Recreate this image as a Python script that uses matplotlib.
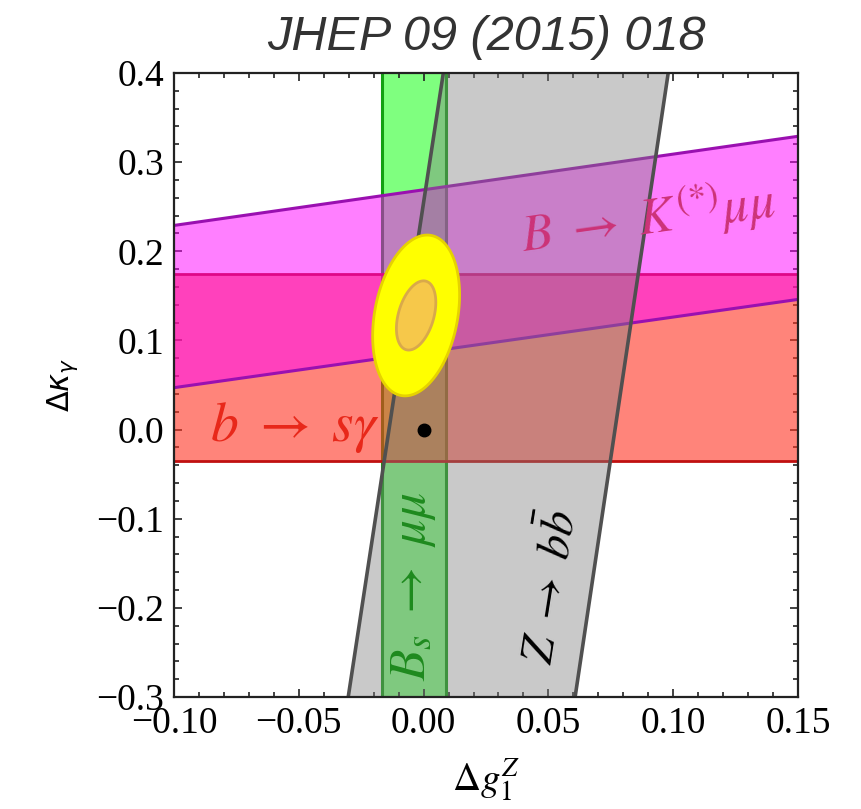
import numpy as np
import matplotlib
matplotlib.use("Agg")
import matplotlib.pyplot as plt

plt.rcParams['mathtext.fontset'] = 'stix'

# ---------------- data ----------------
x_limits = [-0.10, 0.15]
y_limits = [-0.30, 0.40]
x_ticks = [-0.10, -0.05, 0.00, 0.05, 0.10, 0.15]
x_tick_labels = ["\u22120.10", "\u22120.05", "0.00", "0.05", "0.10", "0.15"]
y_ticks = [-0.3, -0.2, -0.1, 0.0, 0.1, 0.2, 0.3, 0.4]
y_tick_labels = ["\u22120.3", "\u22120.2", "\u22120.1", "0.0", "0.1", "0.2", "0.3", "0.4"]

# B_s -> mu mu : vertical band in Delta g1Z
bsmm_x_range = [-0.0165, 0.009]
# b -> s gamma : horizontal band in Delta kappa
bsg_y_range = [-0.035, 0.175]
# B -> K(*) mu mu : tilted band (edges at x = -0.10 and 0.15)
bkmm_x = [-0.10, 0.15]
bkmm_low = [0.047, 0.146]
bkmm_high = [0.229, 0.329]
# Z -> b bbar : tilted band (edges at y = -0.3 and 0.4)
zbb_y = [-0.30, 0.40]
zbb_left = [-0.0302, 0.0079]
zbb_right = [0.0607, 0.098]

# combined fit ellipses: centre, semi-axis vectors (data units)
fit_center = [-0.003, 0.128]
outer_major = [0.0060, 0.0898]
outer_minor = [0.01635, -0.0085]
inner_major = [0.0040, 0.0384]
inner_minor = [0.0068, -0.0056]
sm_point = [0.0, 0.0]

# ---------------- figure ----------------
fig = plt.figure(figsize=(8.61, 8.09), dpi=100)
ax = fig.add_axes([174/861, 1-697/809, 624/861, 624/809])

# green band
ax.axvspan(bsmm_x_range[0], bsmm_x_range[1], color='#00FF00', alpha=0.5, lw=0, zorder=1)
for xv in bsmm_x_range:
    ax.axvline(xv, color='#12A012', lw=2.2, zorder=1.1)

# red band
ax.axhspan(bsg_y_range[0], bsg_y_range[1], color='#FF3322', alpha=0.6, lw=0, zorder=2)
for yv in bsg_y_range:
    ax.axhline(yv, color='#C01010', lw=2.0, zorder=2.1)

# magenta band
ax.fill_between(bkmm_x, bkmm_low, bkmm_high, color='#FF00FF', alpha=0.5, lw=0, zorder=3)
ax.plot(bkmm_x, bkmm_low, color='#9A10B0', lw=2.2, zorder=3.1)
ax.plot(bkmm_x, bkmm_high, color='#9A10B0', lw=2.2, zorder=3.1)

# gray band
ax.fill_betweenx(zbb_y, zbb_left, zbb_right, color='#7F7F7F', alpha=0.42, lw=0, zorder=4)
ax.plot(zbb_left, zbb_y, color='#505050', lw=2.6, zorder=4.1)
ax.plot(zbb_right, zbb_y, color='#505050', lw=2.6, zorder=4.1)

# ellipses
t = np.linspace(0, 2*np.pi, 200)
def ell(major, minor):
    ex = fit_center[0] + major[0]*np.cos(t) + minor[0]*np.sin(t)
    ey = fit_center[1] + major[1]*np.cos(t) + minor[1]*np.sin(t)
    return ex, ey
ex, ey = ell(outer_major, outer_minor)
ax.fill(ex, ey, facecolor='#FFFF00', edgecolor='#E6D200', lw=2, zorder=5)
ex, ey = ell(inner_major, inner_minor)
ax.fill(ex, ey, facecolor='#F6C84A', edgecolor='#D9A94A', lw=2, zorder=5.1)

ax.plot([sm_point[0]], [sm_point[1]], 'o', color='black', ms=9, zorder=6)

# labels
ax.text(0.090, 0.237, r'$B\ \rightarrow\ K^{(*)}\mu\mu$', color='#CC3377', fontsize=37,
        rotation=8, ha='center', va='center', rotation_mode='anchor', zorder=7)
ax.text(-0.0515, 0.002, r'$b\ \rightarrow\ s\gamma$', color='#E8281A', fontsize=40,
        ha='center', va='center', zorder=7)
ax.text(-0.0042, -0.176, r'$B_s\ \rightarrow\ \mu\mu$', color='#1E8A1E', fontsize=37,
        rotation=90, ha='center', va='center', rotation_mode='anchor', zorder=7)
ax.text(0.051, -0.177, r'$Z\ \rightarrow\ b\bar{b}$', color='black', fontsize=34,
        rotation=81, ha='center', va='center', rotation_mode='anchor', zorder=7)

# axes styling
ax.set_xlim(x_limits)
ax.set_ylim(y_limits)
ax.set_xticks(x_ticks)
ax.set_xticklabels(x_tick_labels)
ax.set_yticks(y_ticks)
ax.set_yticklabels(y_tick_labels)
ax.set_xticks(np.arange(-0.10, 0.1501, 0.01), minor=True)
ax.set_yticks(np.arange(-0.30, 0.4001, 0.02), minor=True)
ax.tick_params(which='both', direction='in', top=True, right=True, width=1.2, color='#222222')
ax.tick_params(which='major', length=6, pad=7, labelsize=27)
ax.tick_params(which='minor', length=3.5)
for lab in ax.get_xticklabels() + ax.get_yticklabels():
    lab.set_fontfamily('Liberation Serif')
for s in ax.spines.values():
    s.set_linewidth(1.6)
    s.set_color('#222222')
    s.set_zorder(10)

ax.set_xlabel(r'$\Delta g_1^Z$', fontsize=28, labelpad=12, math_fontfamily='stix')
ax.set_ylabel(r'$\Delta\kappa_\gamma$', fontsize=22, labelpad=12, math_fontfamily='dejavusans')

fig.text(486/861, 1-50/809, 'JHEP 09 (2015) 018', fontsize=35, style='italic',
         family='Liberation Sans', color='#333333', ha='center', va='baseline')

fig.savefig('out.png', dpi=100)
